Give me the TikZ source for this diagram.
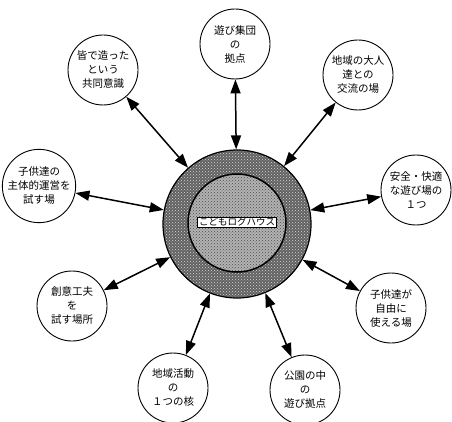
\documentclass[tikz,border=0pt]{standalone}
\usepackage{fontspec}
\newfontfamily\jp{Noto Sans CJK JP}
\usetikzlibrary{arrows.meta,patterns}
\begin{document}
\begin{tikzpicture}[x=1pt,y=-1pt,
  bub/.style={circle, draw, line width=0.9pt, minimum size=70pt, inner sep=0pt,
    align=center, font=\jp\fontsize{10.5}{14}\selectfont},
  link/.style={line width=1.5pt,
    arrows={Triangle[length=14pt,width=10pt]-Triangle[length=14pt,width=10pt]}},
  ring/.style={circle, draw, line width=1.2pt, inner sep=0pt}
]
\useasboundingbox (0,0) rectangle (452,422);
% central element
\node[ring, minimum size=148pt, preaction={fill=black!62},
  pattern=crosshatch dots, pattern color=white!85!black] (big) at (237,224) {};
\node[ring, minimum size=98pt, line width=1.5pt, preaction={fill=black!30},
  pattern=crosshatch dots, pattern color=black!70] (inner) at (237,223) {};
\node[draw, fill=white, line width=0.6pt, inner xsep=1.5pt, inner ysep=0.5pt,
  font=\jp\fontsize{9.5}{10}\selectfont] (lbl) at (237,222) {こどもログハウス};
% surrounding bubbles
\node[bub] (n1) at (235,44) {遊び集団\\の\\拠点};
\node[bub] (n2) at (358,75) {地域の大人\\達との\\交流の場};
\node[bub] (n3) at (416,190) {安全・快適\\な遊び場の\\１つ};
\node[bub] (n4) at (391,308) {子供達が\\自由に\\使える場};
\node[bub] (n5) at (305,390) {公園の中\\の\\遊び拠点};
\node[bub] (n6) at (173,388) {地域活動\\の\\１つの核};
\node[bub] (n7) at (72,306) {創意工夫\\を\\試す場所};
\node[bub] (n8) at (39,186) {子供達の\\主体的運営を\\試す場};
\node[bub] (n9) at (103,70) {皆で造った\\という\\共同意識};
% connectors
\foreach \n in {n1,n2,n3,n4,n5,n6,n7,n8,n9}
  \draw[link] (\n) -- (big);
\end{tikzpicture}
\end{document}
